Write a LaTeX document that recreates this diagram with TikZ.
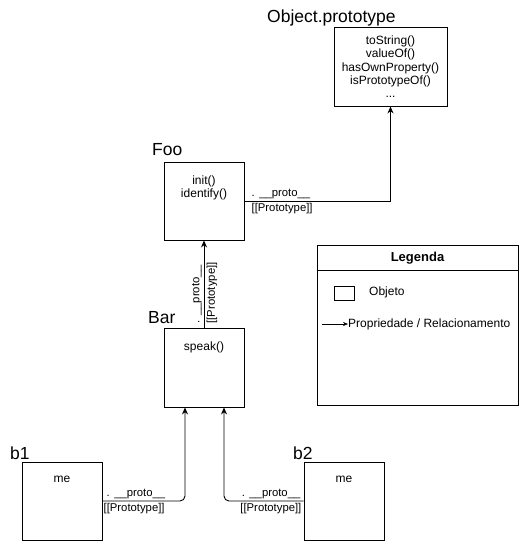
\documentclass[tikz,border=0pt]{standalone}
\usepackage{fontspec}
\setmainfont{Liberation Sans}
\usetikzlibrary{arrows.meta,positioning}

\tikzset{
  objbox/.style={draw, line width=0.9pt, inner sep=0pt},
  boxtext/.style={inner sep=0pt, anchor=north, align=center, font=\fontsize{12}{13.3}\selectfont},
  title/.style={inner sep=0pt, anchor=base west, font=\fontsize{17.5}{20}\selectfont},
  small/.style={inner sep=0pt, font=\fontsize{11.3}{13}\selectfont},
  keytext/.style={inner sep=0pt, font=\fontsize{12}{14}\selectfont},
  link/.style={-{Stealth[length=7pt,width=6pt]}, line width=0.9pt},
}
\newcommand{\protolabel}{.\hspace{4.5pt}\_\_proto\_\_}

\begin{document}
\begin{tikzpicture}[x=1pt,y=-1pt]
    \useasboundingbox (0,0) rectangle (520,547);

    % objects
    \node (obj) [objbox, minimum width=113pt, minimum height=79pt] at (390.5,66.5) {};
    \node (foo) [objbox, minimum width=80pt, minimum height=78pt] at (204,201) {};
    \node (bar) [objbox, minimum width=80pt, minimum height=79pt] at (204,367.5) {};
    \node (b1) [objbox, minimum width=80pt, minimum height=78pt] at (62,501) {};
    \node (b2) [objbox, minimum width=80pt, minimum height=78pt] at (344,501) {};

    \node (obj title) [title] at (267,22) {Object.prototype};
    \node (foo title) [title] at (152,155) {Foo};
    \node (bar title) [title] at (148,323) {Bar};
    \node (b1 title) [title] at (10,459) {b1};
    \node (b2 title) [title] at (293,459) {b2};

    \node (obj text) [boxtext, below=9pt of obj.north] {toString()\\valueOf()\\hasOwnProperty()\\isPrototypeOf()\\...};
    \node (foo text) [boxtext, below=14pt of foo.north] {init()\\identify()};
    \node (bar text) [boxtext, below=14pt of bar.north] {speak()};
    \node (b1 text) [boxtext, below=14pt of b1.north] {me};
    \node (b2 text) [boxtext, below=14pt of b2.north] {me};

    % prototype chain
    \draw [link] (foo.east) -| (obj.south);
    \node (foo proto) [small, anchor=south west] at ([xshift=7pt,yshift=2pt]foo.east) {\protolabel};
    \node (foo pt) [small, anchor=north west] at ([xshift=7pt,yshift=-2.5pt]foo.east) {[[Prototype]]};

    \draw [link] (bar.north) -- (foo.south);
    \node (bar proto) [small, rotate=90, anchor=south west] at ([xshift=-2pt,yshift=4pt]bar.north) {\protolabel};
    \node (bar pt) [small, rotate=90, anchor=north west] at ([xshift=2.5pt,yshift=4pt]bar.north) {[[Prototype]]};

    \draw [link, rounded corners=5pt] (b1.east) -| ([xshift=-19pt]bar.south);
    \node (b1 proto) [small, anchor=south west] at ([xshift=4pt,yshift=2pt]b1.east) {\protolabel};
    \node (b1 pt) [small, anchor=north west] at ([xshift=1pt,yshift=-2.5pt]b1.east) {[[Prototype]]};

    \draw [link, rounded corners=5pt] (b2.west) -| ([xshift=20pt]bar.south);
    \node (b2 proto) [small, anchor=south east] at ([xshift=-3pt,yshift=2pt]b2.west) {\protolabel};
    \node (b2 pt) [small, anchor=north east] at ([xshift=-2pt,yshift=-2.5pt]b2.west) {[[Prototype]]};

    % legend
    \node (legend) [objbox, minimum width=201pt, minimum height=160pt] at (417.5,325) {};
    \draw [line width=0.9pt] (legend.west |- 0,270) -- (legend.east |- 0,270);
    \node (legend title) [keytext, font=\fontsize{13}{15}\selectfont\bfseries] at (417.5,258) {Legenda};
    \node (key box) [objbox, line width=0.7pt, minimum width=20pt, minimum height=14pt] at (344,293) {};
    \node (key box text) [keytext, anchor=west] at (369,292) {Objeto};
    \coordinate (key start) at (322,324);
    \node (key link text) [keytext, anchor=west] at (348,324) {Propriedade / Relacionamento};
    \draw [-{Stealth[length=5pt,width=4pt]}, line width=0.6pt] (key start) -- (key link text.west);
\end{tikzpicture}
\end{document}
